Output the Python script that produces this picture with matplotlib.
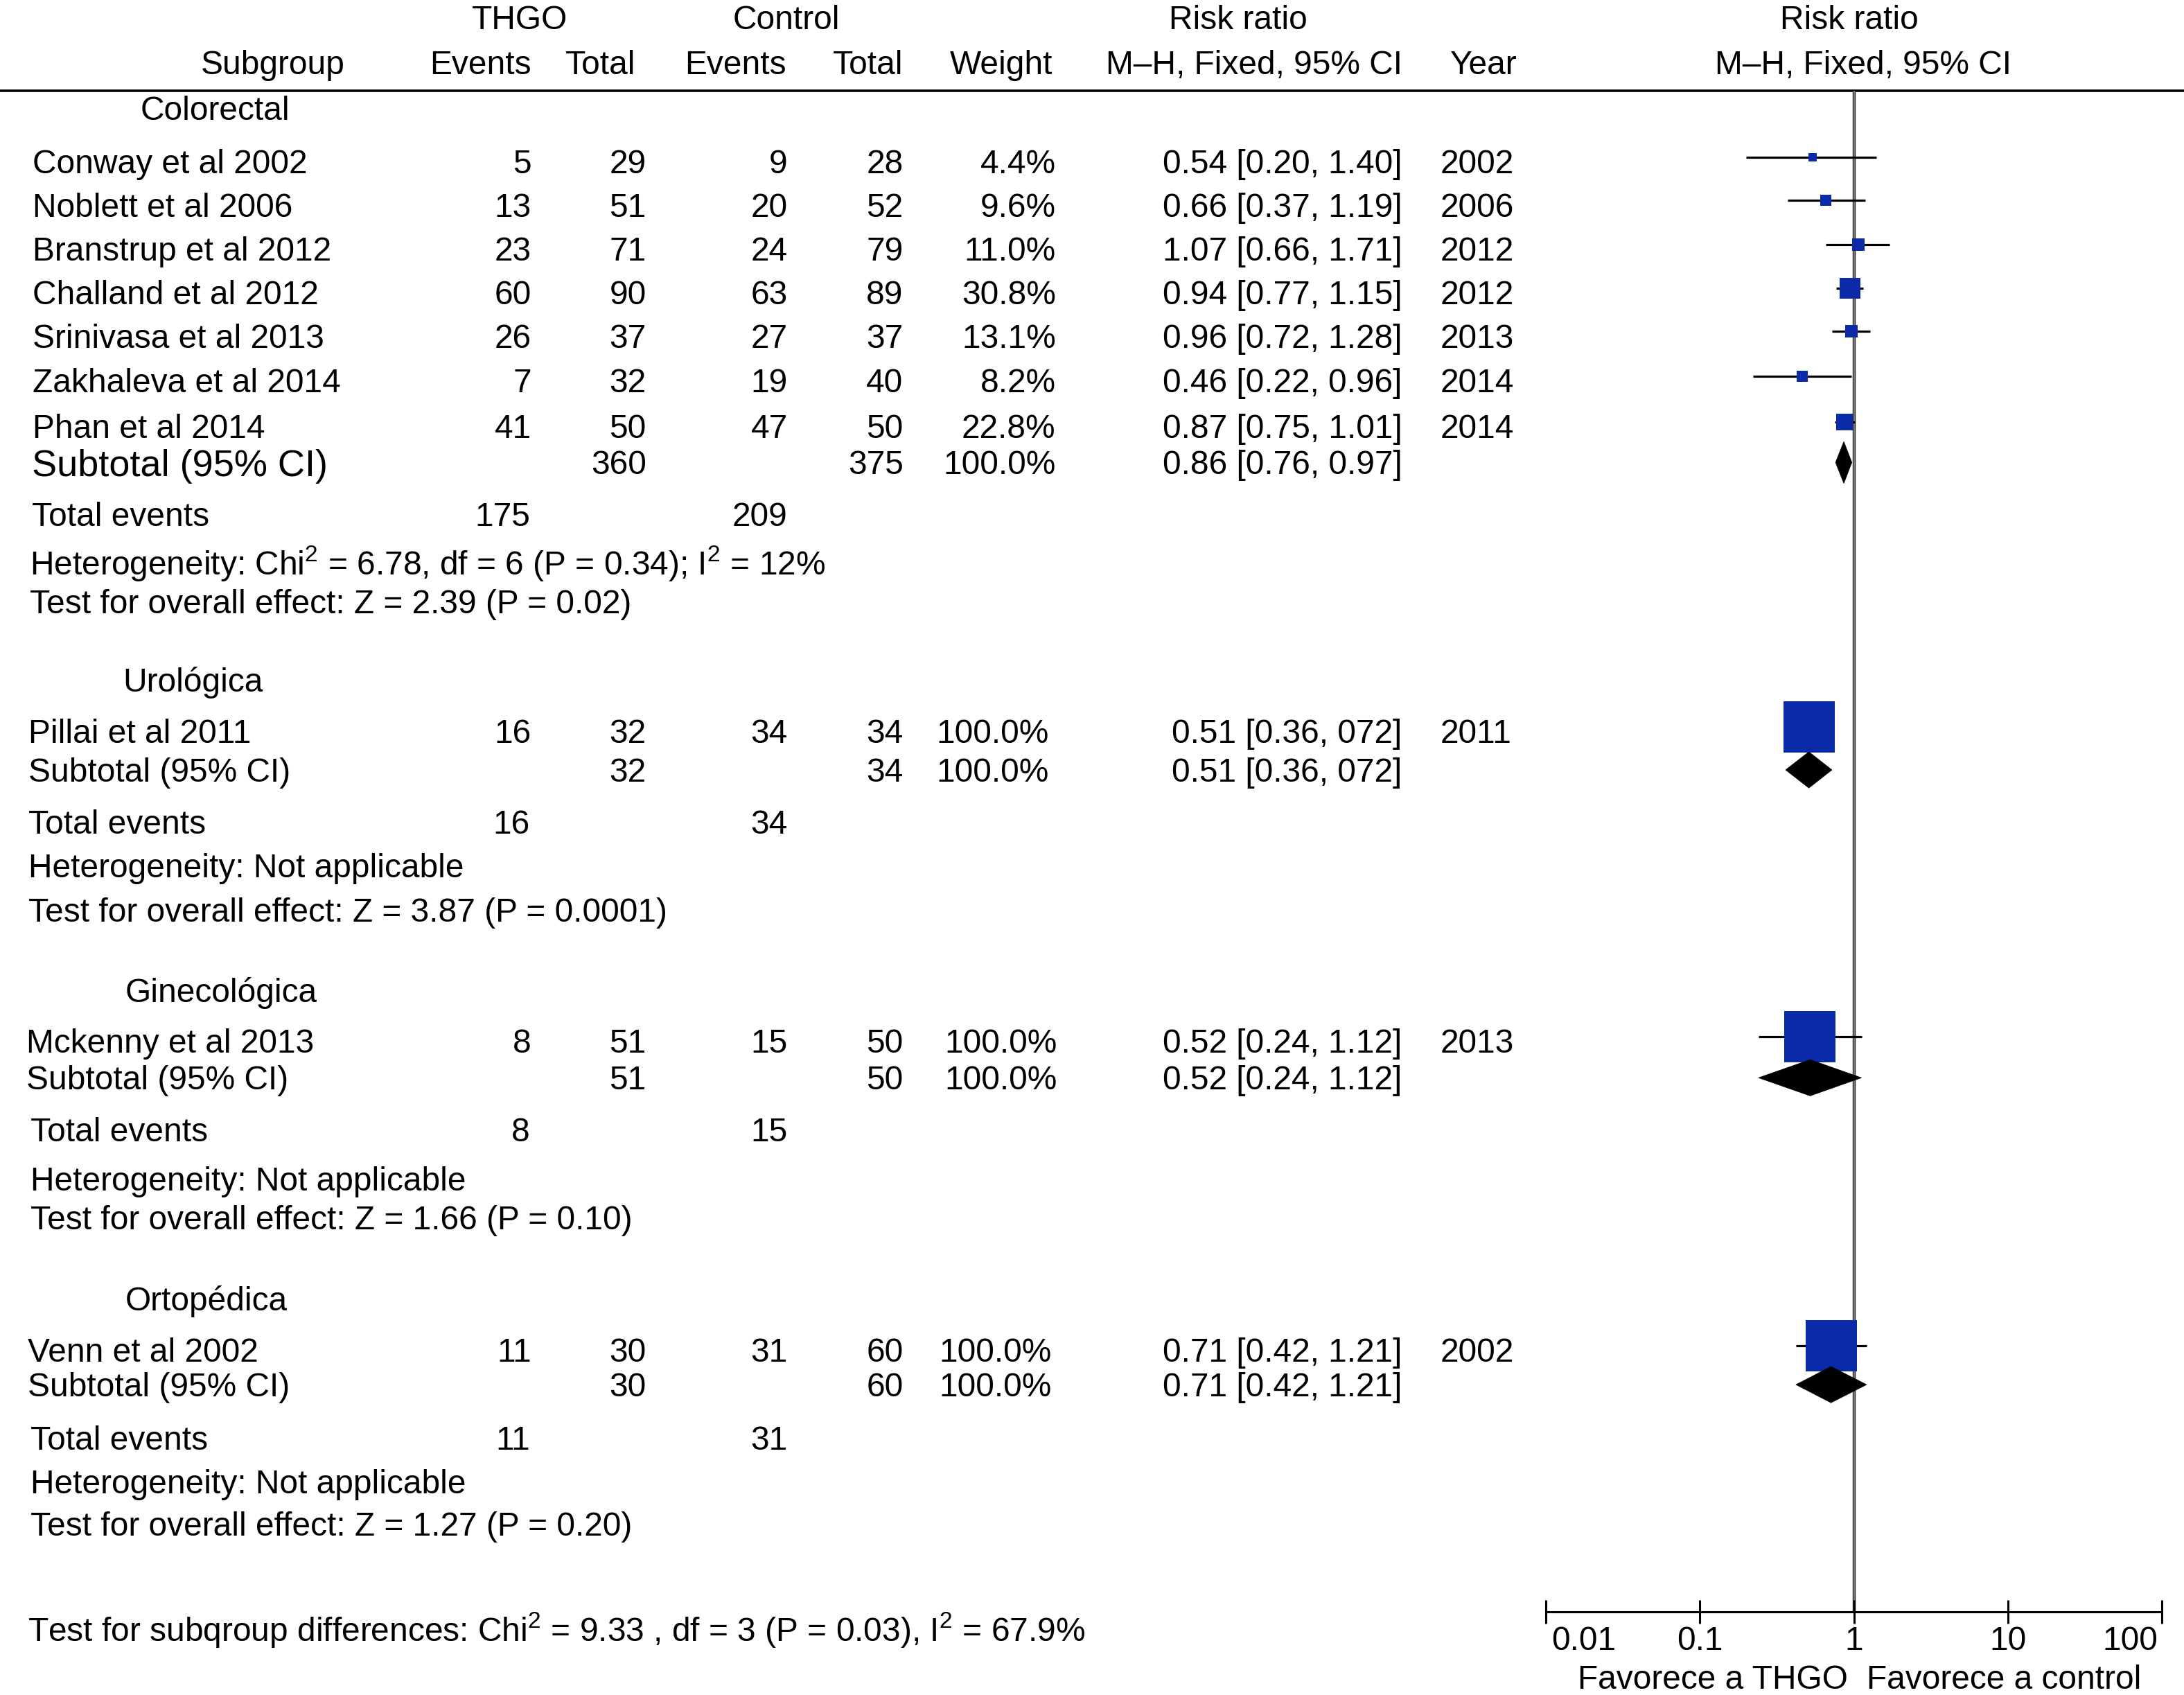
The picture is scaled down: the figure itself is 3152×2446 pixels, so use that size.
import matplotlib
matplotlib.use('Agg')
import matplotlib.pyplot as plt
from matplotlib.patches import Polygon

plt.rcParams['font.family'] = ['Liberation Sans', 'DejaVu Sans']
plt.rcParams['mathtext.fontset'] = 'custom'
plt.rcParams['mathtext.rm'] = 'Liberation Sans'
plt.rcParams['mathtext.it'] = 'Liberation Sans'
plt.rcParams['mathtext.bf'] = 'Liberation Sans'

# ---------------- data ----------------
subgroups = ['Colorectal', 'Urológica', 'Ginecológica', 'Ortopédica']
study_names = ['Conway et al 2002', 'Noblett et al 2006', 'Branstrup et al 2012',
               'Challand et al 2012', 'Srinivasa et al 2013', 'Zakhaleva et al 2014',
               'Phan et al 2014', 'Pillai et al 2011', 'Mckenny et al 2013', 'Venn et al 2002']
study_group = [0, 0, 0, 0, 0, 0, 0, 1, 2, 3]
thgo_events = [5, 13, 23, 60, 26, 7, 41, 16, 8, 11]
thgo_total = [29, 51, 71, 90, 37, 32, 50, 32, 51, 30]
ctrl_events = [9, 20, 24, 63, 27, 19, 47, 34, 15, 31]
ctrl_total = [28, 52, 79, 89, 37, 40, 50, 34, 50, 60]
weights = [4.4, 9.6, 11.0, 30.8, 13.1, 8.2, 22.8, 100.0, 100.0, 100.0]
rr = [0.54, 0.66, 1.07, 0.94, 0.96, 0.46, 0.87, 0.51, 0.52, 0.71]
ci_low = [0.20, 0.37, 0.66, 0.77, 0.72, 0.22, 0.75, 0.36, 0.24, 0.42]
ci_high = [1.40, 1.19, 1.71, 1.15, 1.28, 0.96, 1.01, 0.72, 1.12, 1.21]
ci_labels = ['0.54 [0.20, 1.40]', '0.66 [0.37, 1.19]', '1.07 [0.66, 1.71]',
             '0.94 [0.77, 1.15]', '0.96 [0.72, 1.28]', '0.46 [0.22, 0.96]',
             '0.87 [0.75, 1.01]', '0.51 [0.36, 072]', '0.52 [0.24, 1.12]',
             '0.71 [0.42, 1.21]']
years = [2002, 2006, 2012, 2012, 2013, 2014, 2014, 2011, 2013, 2002]

sub_thgo_total = [360, 32, 51, 30]
sub_ctrl_total = [375, 34, 50, 60]
sub_weight = [100.0, 100.0, 100.0, 100.0]
sub_rr = [0.86, 0.51, 0.52, 0.71]
sub_low = [0.76, 0.36, 0.24, 0.42]
sub_high = [0.97, 0.72, 1.12, 1.21]
sub_ci_labels = ['0.86 [0.76, 0.97]', '0.51 [0.36, 072]', '0.52 [0.24, 1.12]',
                 '0.71 [0.42, 1.21]']
sub_thgo_events = [175, 16, 8, 11]
sub_ctrl_events = [209, 34, 15, 31]
heterogeneity = ['Heterogeneity: Chi$^2$ = 6.78, df = 6 (P = 0.34); I$^2$ = 12%',
                 'Heterogeneity: Not applicable',
                 'Heterogeneity: Not applicable',
                 'Heterogeneity: Not applicable']
overall_effect = ['Test for overall effect: Z = 2.39 (P = 0.02)',
                  'Test for overall effect: Z = 3.87 (P = 0.0001)',
                  'Test for overall effect: Z = 1.66 (P = 0.10)',
                  'Test for overall effect: Z = 1.27 (P = 0.20)']
subgroup_test = 'Test for subqroup differences: Chi$^2$ = 9.33 , df = 3 (P = 0.03), I$^2$ = 67.9%'
axis_ticks = [0.01, 0.1, 1, 10, 100]
axis_ticklabels = ['0.01', '0.1', '1', '10', '100']
favours = ['Favorece a THGO', 'Favorece a control']

# ---------------- layout (half-scale pixel units) ----------------
W, H = 1568.0, 1216.8
FS = 34.5
FS_BIG = 39
study_y = [115.8, 147, 178.6, 210, 241, 273, 306, 525, 747, 969]
study_x = [23.5] * 7 + [20.5, 18.8, 20]
head_y = [77.6, 488, 711, 932]
head_x = [101, 88, 90, 90]
subtot_y = [332, 552.7, 773.7, 994]
subtot_x = [22.7, 20.6, 18.8, 20]
totev_y = [369, 590, 811, 1032]
het_y = [404, 621.5, 846, 1063.5]
test_y = [432, 653, 874, 1094]
block_x = [[22.7, 21.5, 21.5], [20.6, 20.6, 20.6], [22, 22, 22], [22, 22, 22]]
weight_right = [758, 753, 759, 755]
COL_EV1, COL_TOT1, COL_EV2, COL_TOT2 = 381.5, 464, 565.5, 648.5
COL_CI, COL_YEAR = 1006.5, 1034
AX_L, AX_R, AX_TOP, AX_BOT = 1110, 1552, 65, 1157
BLUE = '#0a2aa8'

fig = plt.figure(figsize=(31.52, 24.46), dpi=100)
ax = fig.add_axes([0, 0, 1, 1])
ax.set_xlim(0, W)
ax.set_ylim(H, 0)
ax.axis('off')


def txt(x, y, s, ha='left', fs=FS, cap=8.5):
    ax.text(x, y + cap, s, ha=ha, va='baseline', fontsize=fs, color='black')


# headers
txt(373, 12.6, 'THGO', ha='center')
txt(564.5, 12.6, 'Control', ha='center')
txt(889, 12.6, 'Risk ratio', ha='center')
txt(1327.5, 12.6, 'Risk ratio', ha='center')
txt(247.5, 44.5, 'Subgroup', ha='right')
txt(345, 44.5, 'Events', ha='center')
txt(431, 44.5, 'Total', ha='center')
txt(528, 44.5, 'Events', ha='center')
txt(623, 44.5, 'Total', ha='center')
txt(719, 44.5, 'Weight', ha='center')
txt(1007, 44.5, 'M–H, Fixed, 95% CI', ha='right')
txt(1065, 44.5, 'Year', ha='center')
txt(1337.5, 44.5, 'M–H, Fixed, 95% CI', ha='center')
ax.axhline(AX_TOP, color='black', lw=2.6)

# study rows
for i, name in enumerate(study_names):
    g = study_group[i]
    y = study_y[i]
    txt(study_x[i], y, name)
    txt(COL_EV1, y, str(thgo_events[i]), ha='right')
    txt(COL_TOT1, y, str(thgo_total[i]), ha='right')
    txt(COL_EV2, y, str(ctrl_events[i]), ha='right')
    txt(COL_TOT2, y, str(ctrl_total[i]), ha='right')
    txt(weight_right[g], y, f'{weights[i]:.1f}%', ha='right')
    txt(COL_CI, y, ci_labels[i], ha='right')
    txt(COL_YEAR, y, str(years[i]))

# subgroup blocks
for g, gname in enumerate(subgroups):
    txt(head_x[g], head_y[g], gname)
    big = (g == 0)
    txt(subtot_x[g], subtot_y[g], 'Subtotal (95% CI)',
        fs=FS_BIG if big else FS, cap=9.6 if big else 8.5)
    txt(COL_TOT1, subtot_y[g], str(sub_thgo_total[g]), ha='right')
    txt(COL_TOT2, subtot_y[g], str(sub_ctrl_total[g]), ha='right')
    txt(weight_right[g], subtot_y[g], f'{sub_weight[g]:.1f}%', ha='right')
    txt(COL_CI, subtot_y[g], sub_ci_labels[g], ha='right')
    txt(block_x[g][0], totev_y[g], 'Total events')
    txt(COL_EV1 - 1, totev_y[g], str(sub_thgo_events[g]), ha='right')
    txt(COL_EV2, totev_y[g], str(sub_ctrl_events[g]), ha='right')
    txt(block_x[g][1], het_y[g], heterogeneity[g])
    txt(block_x[g][2], test_y[g], overall_effect[g])

txt(20, 1169.5, subgroup_test)

# ---------------- forest panel ----------------
fax = fig.add_axes([AX_L / W, 1 - AX_BOT / H, (AX_R - AX_L) / W, (AX_BOT - AX_TOP) / H])
fax.set_facecolor('none')
fax.set_xscale('log')
fax.set_xlim(axis_ticks[0], axis_ticks[-1])
fax.set_ylim(AX_BOT, AX_TOP)
for s in ['top', 'left', 'right']:
    fax.spines[s].set_visible(False)
fax.spines['bottom'].set_linewidth(2.2)
fax.set_yticks([])
fax.set_xticks(axis_ticks)
fax.xaxis.set_minor_locator(matplotlib.ticker.NullLocator())
fax.tick_params(axis='x', direction='inout', length=25, width=2.2, labelbottom=False)

fax.axvline(1, color='#2a2a2a', lw=3.2, zorder=1)
fax.axvline(1, color='#8a8a8a', lw=1.2, zorder=1.1)

for i in range(len(study_names)):
    y = study_y[i] - 3
    fax.plot([ci_low[i], ci_high[i]], [y, y], color='black', lw=2.3,
             solid_capstyle='butt', zorder=2)
    side_half = 5 + 32 * weights[i] / 100.0
    fax.plot([rr[i]], [y], marker='s', color=BLUE, markeredgewidth=0,
             markersize=side_half * 2.0102 * 0.72, zorder=3)

for g in range(len(subgroups)):
    y = subtot_y[g]
    h = 15 if g == 0 else 13
    fax.add_patch(Polygon([(sub_low[g], y), (sub_rr[g], y - h), (sub_high[g], y),
                           (sub_rr[g], y + h)], closed=True, facecolor='black',
                          edgecolor='black', lw=0.5, zorder=3))

for k, (t, lbl) in enumerate(zip(axis_ticks, axis_ticklabels)):
    ha = 'left' if k == 0 else ('right' if k == len(axis_ticks) - 1 else 'center')
    dx = 4 if k == 0 else (-3 if k == len(axis_ticks) - 1 else 0)
    ax.text(AX_L + (AX_R - AX_L) * k / (len(axis_ticks) - 1) + dx, 1176 + 8.5, lbl,
            ha=ha, va='baseline', fontsize=FS)

txt(1229.5, 1204, favours[0], ha='center')
txt(1439, 1204, favours[1], ha='center')

fig.savefig('out.png', dpi=100)
